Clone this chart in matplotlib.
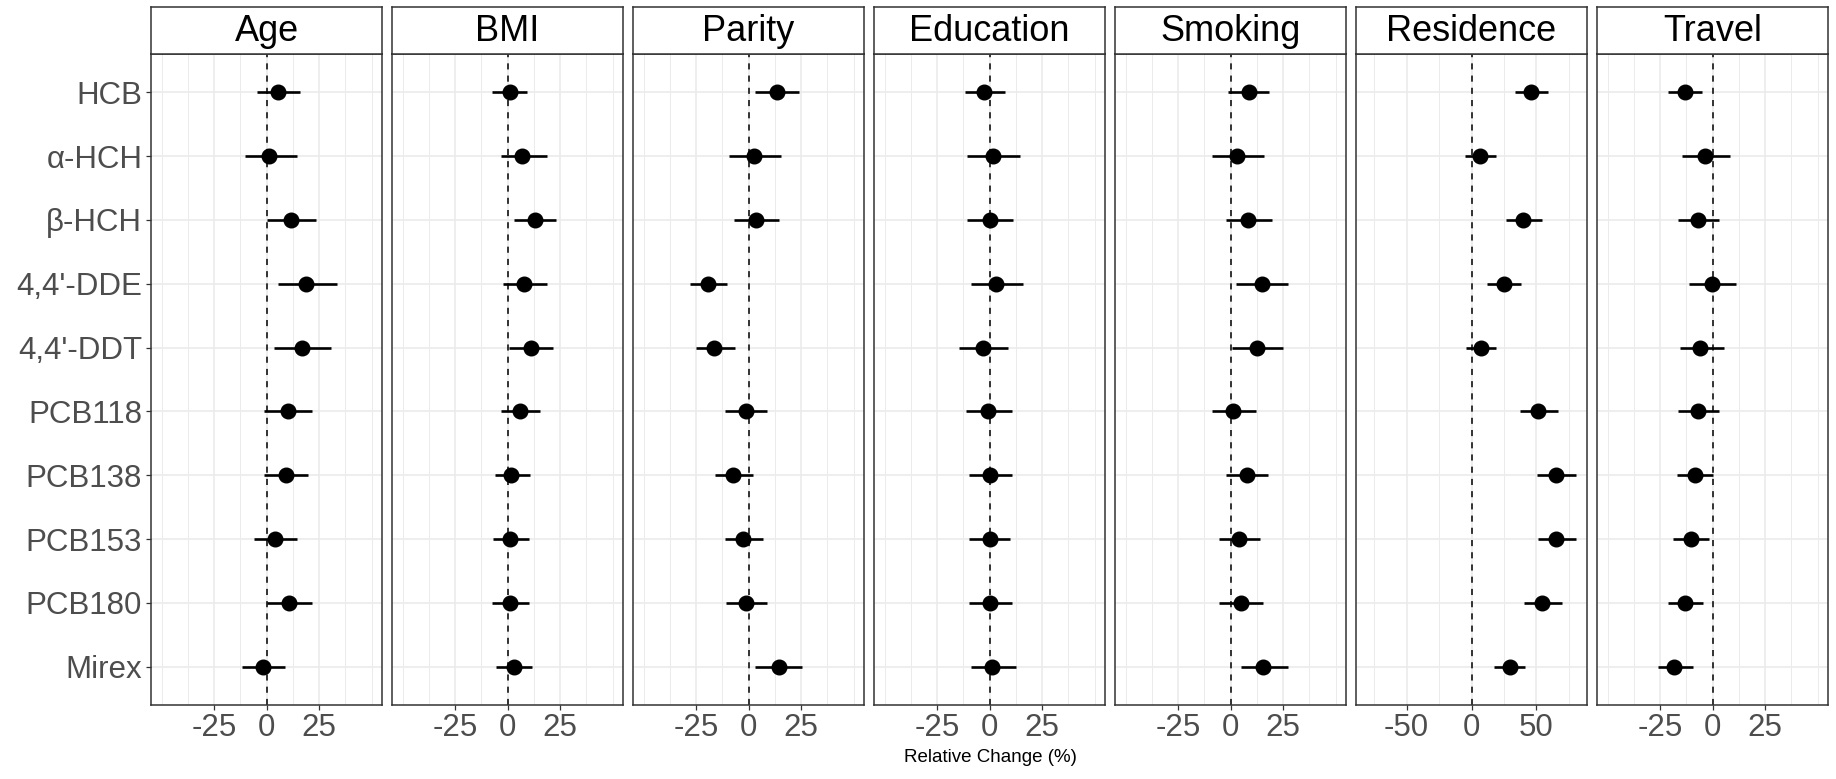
import numpy as np
import matplotlib
matplotlib.use("Agg")
import matplotlib.pyplot as plt

plt.rcParams['font.family'] = ['Liberation Sans', 'DejaVu Sans']

# compounds (top to bottom) and factors (panels)
compounds = ["HCB", "α-HCH", "β-HCH", "4,4'-DDE", "4,4'-DDT",
             "PCB118", "PCB138", "PCB153", "PCB180", "Mirex"]
factors = ["Age", "BMI", "Parity", "Education", "Smoking", "Residence", "Travel"]

# relative change (%) - one row per factor, one value per compound
estimate = [
    [5.6, 1.4, 11.6, 19.0, 17.0, 10.0, 9.2, 4.1, 10.5, -1.9],
    [1.4, 7.0, 13.0, 7.8, 11.1, 5.9, 1.9, 1.3, 1.3, 3.3],
    [13.5, 2.4, 3.8, -19.4, -16.2, -1.3, -7.2, -2.5, -1.3, 14.3],
    [-2.5, 1.9, 0.0, 3.3, -3.3, -0.6, 0.0, 0.0, 0.0, 1.3],
    [8.6, 3.3, 8.4, 15.0, 12.4, 1.4, 7.8, 4.1, 4.8, 15.6],
    [46.2, 6.9, 40.0, 25.1, 7.4, 51.3, 65.1, 65.1, 54.4, 29.7],
    [-13.3, -3.7, -7.0, -0.3, -5.9, -7.0, -8.4, -10.3, -12.9, -18.1],
]
lower = [
    [-4.6, -10.4, 0.0, 5.7, 3.8, -1.4, -1.4, -6.0, 0.0, -11.8],
    [-7.3, -3.3, 3.0, -2.2, 0.6, -3.3, -6.0, -6.7, -7.3, -5.4],
    [3.2, -9.2, -6.7, -28.0, -24.8, -11.3, -15.8, -11.3, -10.5, 3.2],
    [-11.9, -10.7, -10.7, -8.6, -14.5, -11.3, -10.0, -10.0, -10.0, -8.6],
    [-1.4, -8.6, -2.1, 2.4, 0.5, -8.6, -2.1, -5.4, -5.4, 5.1],
    [33.3, -5.1, 26.9, 12.3, -4.1, 37.7, 50.3, 51.0, 40.8, 17.7],
    [-21.4, -14.4, -16.3, -11.1, -15.7, -16.3, -17.0, -18.9, -21.4, -26.0],
]
upper = [
    [15.8, 14.6, 23.6, 33.4, 30.7, 21.7, 19.9, 14.6, 21.7, 8.6],
    [9.4, 18.6, 23.1, 18.6, 21.7, 15.3, 10.8, 10.0, 10.0, 11.9],
    [24.2, 15.3, 14.5, -10.2, -6.2, 8.6, 2.2, 6.7, 8.6, 25.5],
    [7.3, 14.5, 11.1, 15.8, 8.6, 10.5, 10.5, 9.9, 10.5, 12.4],
    [18.5, 15.9, 19.9, 27.5, 25.0, 12.1, 17.8, 14.0, 15.3, 27.5],
    [59.2, 18.7, 54.1, 38.5, 18.7, 66.7, 80.3, 80.3, 69.7, 41.3],
    [-4.9, 8.1, 2.9, 11.3, 5.4, 2.9, 0.0, -1.7, -4.3, -9.5],
]

# axis half-range and tick spacing for each panel
x_half = [55, 55, 55, 55, 55, 89, 55]
x_step = [25, 25, 25, 25, 25, 50, 25]

W, H = 1836, 779
fig = plt.figure(figsize=(W / 100, H / 100), dpi=100)

left0, pw, step = 151, 231, 241
top, bottom, strip_top = 54, 705, 7
grid_col = '#EBEBEB'
edge_col = '#333333'

y = np.arange(len(compounds))

for i, name in enumerate(factors):
    x0 = left0 + i * step
    ax = fig.add_axes([x0 / W, 1 - bottom / H, pw / W, (bottom - top) / H])
    half = x_half[i]
    s = x_step[i]
    ax.set_xlim(-half, half)
    ax.set_ylim(len(compounds) - 1 + 0.6, -0.6)

    # grid lines like theme_bw
    majors = [-s, 0, s]
    minors = [v for v in np.arange(-2 * s, 2 * s + 0.1, s / 2) if v not in majors]
    for v in minors:
        ax.axvline(v, color=grid_col, lw=0.7, zorder=0)
    for v in majors:
        ax.axvline(v, color=grid_col, lw=1.2, zorder=0)
    for yy in y:
        ax.axhline(yy, color=grid_col, lw=1.2, zorder=0)

    ax.axvline(0, color='black', lw=1.1, ls=(0, (4, 4)), zorder=2)

    ax.hlines(y, lower[i], upper[i], color='black', lw=1.9, zorder=3)
    ax.plot(estimate[i], y, 'o', color='black', ms=10.5, zorder=4)

    ax.set_xticks(majors)
    ax.set_xticklabels([f"{v:g}" for v in majors])
    ax.tick_params(axis='x', length=3.3, width=0.9, color=edge_col,
                   labelsize=22.5, labelcolor='#4D4D4D', pad=2.5)
    if i == 0:
        ax.set_yticks(y)
        ax.set_yticklabels(compounds)
        ax.tick_params(axis='y', length=3.3, width=0.9, color=edge_col,
                       labelsize=22.5, labelcolor='#4D4D4D', pad=3)
    else:
        ax.set_yticks([])
    for sp in ax.spines.values():
        sp.set_color(edge_col)
        sp.set_linewidth(1.1)

    # facet strip
    sax = fig.add_axes([x0 / W, 1 - top / H, pw / W, (top - strip_top) / H])
    sax.set_xticks([])
    sax.set_yticks([])
    sax.set_facecolor('white')
    for sp in sax.spines.values():
        sp.set_color(edge_col)
        sp.set_linewidth(1.1)
    sax.text(0.5, 0.48, name, ha='center', va='center', fontsize=26,
             color='black', transform=sax.transAxes)

fig.text(990 / W, 1 - 757 / H, "Relative Change (%)", ha='center', va='center',
         fontsize=13.5, color='black')

fig.savefig("out.png", dpi=100)
